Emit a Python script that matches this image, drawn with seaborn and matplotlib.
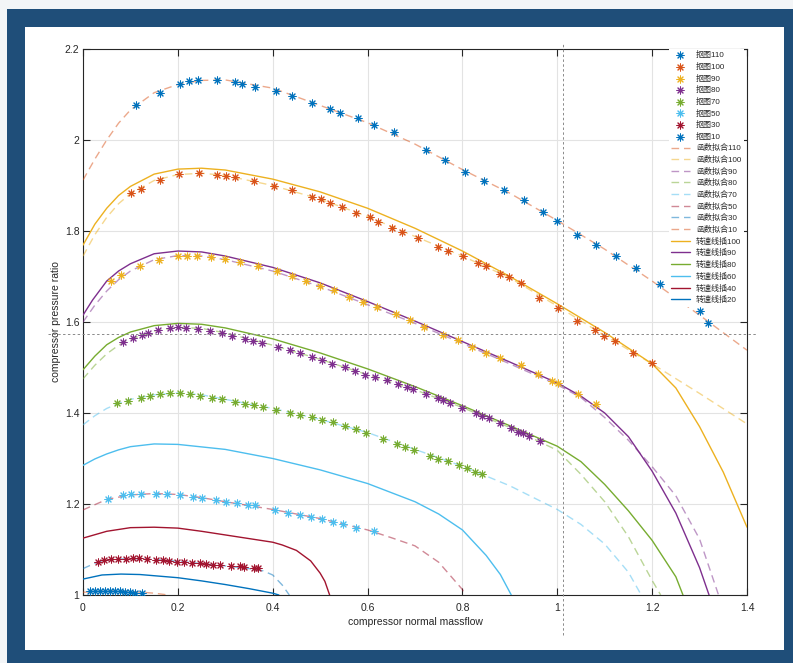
import matplotlib
matplotlib.use("Agg")
import matplotlib.pyplot as plt
from matplotlib.patches import Rectangle
import seaborn as sns

# ---------------- data ----------------
# scatter series "抠图"
s110_x = [0.112, 0.162, 0.205, 0.223, 0.242, 0.283, 0.320, 0.335, 0.363, 0.407, 0.441, 0.483, 0.521,
          0.542, 0.580, 0.614, 0.656, 0.723, 0.763, 0.805, 0.845, 0.888, 0.930, 0.970, 1.000, 1.042,
          1.082, 1.124, 1.166, 1.217, 1.259, 1.301, 1.318]
s110_y = [2.077, 2.103, 2.123, 2.130, 2.132, 2.132, 2.127, 2.123, 2.116, 2.108, 2.097, 2.081, 2.068,
          2.059, 2.048, 2.033, 2.018, 1.978, 1.956, 1.930, 1.910, 1.890, 1.868, 1.842, 1.822, 1.791,
          1.769, 1.745, 1.719, 1.684, 1.655, 1.624, 1.598]

s100_x = [0.101, 0.122, 0.162, 0.202, 0.245, 0.283, 0.301, 0.320, 0.361, 0.403, 0.441, 0.483, 0.502,
          0.521, 0.546, 0.576, 0.605, 0.622, 0.651, 0.673, 0.706, 0.748, 0.770, 0.801, 0.833, 0.850,
          0.879, 0.898, 0.923, 0.961, 1.001, 1.042, 1.079, 1.098, 1.122, 1.160, 1.200]
s100_y = [1.884, 1.892, 1.912, 1.925, 1.927, 1.923, 1.921, 1.919, 1.910, 1.899, 1.890, 1.875, 1.870,
          1.862, 1.853, 1.840, 1.831, 1.820, 1.807, 1.798, 1.785, 1.765, 1.756, 1.745, 1.730, 1.723,
          1.705, 1.699, 1.686, 1.653, 1.631, 1.602, 1.582, 1.569, 1.558, 1.532, 1.510]

s90_x = [0.06, 0.08, 0.12, 0.16, 0.20, 0.22, 0.24, 0.27, 0.30, 0.33, 0.37, 0.41, 0.44, 0.47, 0.50,
         0.53, 0.56, 0.59, 0.62, 0.66, 0.69, 0.72, 0.76, 0.79, 0.82, 0.85, 0.88, 0.923, 0.959, 0.989,
         1.001, 1.044, 1.082]
s90_y = [1.690, 1.703, 1.722, 1.737, 1.744, 1.745, 1.745, 1.742, 1.738, 1.732, 1.723, 1.711, 1.702,
         1.691, 1.680, 1.670, 1.656, 1.645, 1.633, 1.618, 1.604, 1.590, 1.572, 1.560, 1.546, 1.532,
         1.520, 1.505, 1.486, 1.470, 1.466, 1.442, 1.420]

s80_x = [0.084, 0.105, 0.124, 0.137, 0.158, 0.183, 0.200, 0.217, 0.242, 0.268, 0.293, 0.314, 0.342,
         0.358, 0.377, 0.411, 0.436, 0.458, 0.483, 0.504, 0.525, 0.552, 0.573, 0.595, 0.616, 0.641,
         0.664, 0.683, 0.696, 0.723, 0.748, 0.759, 0.774, 0.799, 0.829, 0.841, 0.856, 0.879, 0.902,
         0.917, 0.928, 0.940, 0.964]
s80_y = [1.556, 1.565, 1.571, 1.576, 1.582, 1.587, 1.589, 1.587, 1.585, 1.580, 1.576, 1.569, 1.563,
         1.558, 1.554, 1.545, 1.538, 1.532, 1.523, 1.516, 1.508, 1.501, 1.492, 1.484, 1.479, 1.473,
         1.464, 1.457, 1.453, 1.442, 1.433, 1.429, 1.422, 1.411, 1.400, 1.393, 1.389, 1.378, 1.367,
         1.358, 1.356, 1.349, 1.338]

s70_x = [0.072, 0.095, 0.122, 0.141, 0.162, 0.183, 0.205, 0.226, 0.247, 0.272, 0.293, 0.320, 0.342,
         0.361, 0.380, 0.407, 0.436, 0.458, 0.483, 0.504, 0.527, 0.552, 0.576, 0.597, 0.632, 0.662,
         0.679, 0.698, 0.732, 0.748, 0.770, 0.793, 0.810, 0.826, 0.841]
s70_y = [1.422, 1.426, 1.433, 1.437, 1.442, 1.444, 1.444, 1.442, 1.437, 1.433, 1.431, 1.424, 1.420,
         1.418, 1.413, 1.407, 1.400, 1.396, 1.391, 1.385, 1.380, 1.371, 1.365, 1.356, 1.343, 1.332,
         1.325, 1.319, 1.305, 1.299, 1.295, 1.286, 1.279, 1.270, 1.266]

s50_x = [0.053, 0.084, 0.101, 0.122, 0.154, 0.177, 0.205, 0.232, 0.251, 0.280, 0.302, 0.325, 0.348,
         0.363, 0.405, 0.432, 0.458, 0.481, 0.504, 0.527, 0.548, 0.576, 0.614]
s50_y = [1.211, 1.220, 1.222, 1.222, 1.222, 1.222, 1.220, 1.215, 1.213, 1.209, 1.204, 1.202, 1.198,
         1.198, 1.187, 1.180, 1.176, 1.171, 1.167, 1.160, 1.156, 1.147, 1.141]

s30_x = [0.032, 0.044, 0.059, 0.074, 0.091, 0.105, 0.118, 0.135, 0.154, 0.169, 0.181, 0.198, 0.213,
         0.230, 0.247, 0.259, 0.274, 0.289, 0.312, 0.331, 0.339, 0.361, 0.369]
s30_y = [1.073, 1.077, 1.079, 1.079, 1.079, 1.081, 1.081, 1.079, 1.077, 1.077, 1.075, 1.073, 1.073,
         1.070, 1.070, 1.068, 1.066, 1.066, 1.064, 1.064, 1.062, 1.059, 1.059]

s10_x = [0.015, 0.025, 0.036, 0.046, 0.057, 0.067, 0.078, 0.089, 0.099, 0.110, 0.124]
s10_y = [1.009, 1.009, 1.009, 1.009, 1.009, 1.008, 1.008, 1.007, 1.006, 1.005, 1.005]

# fitted curves "函数拟合"
f110_x = [0, 0.025, 0.05, 0.075, 0.1, 0.15, 0.2, 0.25, 0.3, 0.4, 0.5, 0.6, 0.7, 0.8, 0.9, 1.0, 1.1,
          1.2, 1.3, 1.4]
f110_y = [1.912, 1.958, 2.000, 2.037, 2.066, 2.104, 2.122, 2.131, 2.132, 2.114, 2.076, 2.038, 1.991,
          1.935, 1.883, 1.823, 1.760, 1.690, 1.615, 1.538]
f100_x = [0, 0.025, 0.05, 0.075, 0.1, 0.15, 0.2, 0.25, 0.3, 0.4, 0.5, 0.6, 0.7, 0.8, 0.9, 1.0, 1.1,
          1.2, 1.3, 1.4]
f100_y = [1.745, 1.792, 1.830, 1.860, 1.882, 1.911, 1.924, 1.927, 1.922, 1.900, 1.870, 1.832, 1.788,
          1.745, 1.697, 1.635, 1.570, 1.508, 1.443, 1.376]
f90_x = [0, 0.025, 0.05, 0.075, 0.1, 0.15, 0.2, 0.25, 0.3, 0.4, 0.5, 0.6, 0.7, 0.8, 0.9, 1.0, 1.05,
         1.1, 1.15, 1.2, 1.25, 1.3, 1.34]
f90_y = [1.600, 1.637, 1.668, 1.693, 1.712, 1.737, 1.746, 1.745, 1.737, 1.712, 1.678, 1.638, 1.597,
         1.553, 1.508, 1.462, 1.434, 1.390, 1.340, 1.282, 1.218, 1.123, 1.0]
f80_x = [0, 0.025, 0.05, 0.075, 0.1, 0.15, 0.2, 0.25, 0.3, 0.4, 0.5, 0.6, 0.7, 0.8, 0.9, 1.0, 1.05,
         1.1, 1.15, 1.2, 1.218]
f80_y = [1.475, 1.505, 1.530, 1.549, 1.562, 1.580, 1.588, 1.586, 1.576, 1.549, 1.518, 1.484, 1.451,
         1.412, 1.368, 1.318, 1.265, 1.205, 1.128, 1.032, 1.0]
f70_x = [0, 0.025, 0.05, 0.075, 0.1, 0.15, 0.2, 0.25, 0.3, 0.4, 0.5, 0.6, 0.7, 0.8, 0.9, 1.0, 1.05,
         1.1, 1.15, 1.177]
f70_y = [1.374, 1.394, 1.410, 1.421, 1.430, 1.440, 1.444, 1.440, 1.430, 1.410, 1.386, 1.357, 1.320,
         1.283, 1.240, 1.188, 1.155, 1.112, 1.050, 1.0]
f50_x = [0, 0.05, 0.1, 0.15, 0.2, 0.25, 0.3, 0.4, 0.5, 0.6, 0.65, 0.7, 0.75, 0.8, 0.805]
f50_y = [1.187, 1.210, 1.220, 1.223, 1.221, 1.214, 1.205, 1.188, 1.168, 1.143, 1.126, 1.108, 1.072,
         1.012, 1.0]
f30_x = [0, 0.03, 0.06, 0.1, 0.15, 0.2, 0.25, 0.3, 0.35, 0.38, 0.4, 0.42, 0.435]
f30_y = [1.058, 1.072, 1.078, 1.080, 1.078, 1.074, 1.069, 1.064, 1.058, 1.053, 1.044, 1.022, 1.0]
f10_x = [0, 0.05, 0.1, 0.15, 0.18]
f10_y = [1.006, 1.009, 1.008, 1.004, 1.0]

# speed lines "转速线插"
l100_x = [0, 0.025, 0.05, 0.075, 0.1, 0.15, 0.2, 0.25, 0.3, 0.4, 0.5, 0.6, 0.7, 0.8, 0.9, 1.0, 1.1,
          1.2, 1.25, 1.3, 1.35, 1.4]
l100_y = [1.769, 1.815, 1.850, 1.878, 1.898, 1.925, 1.936, 1.938, 1.934, 1.914, 1.886, 1.850, 1.806,
          1.756, 1.700, 1.640, 1.577, 1.508, 1.455, 1.370, 1.270, 1.149]
l90_x = [0, 0.02, 0.05, 0.075, 0.1, 0.15, 0.2, 0.25, 0.3, 0.4, 0.5, 0.6, 0.7, 0.8, 0.9, 1.0, 1.05,
         1.1, 1.15, 1.2, 1.25, 1.3, 1.32]
l90_y = [1.615, 1.648, 1.690, 1.712, 1.728, 1.750, 1.756, 1.754, 1.745, 1.720, 1.686, 1.645, 1.602,
         1.557, 1.512, 1.466, 1.437, 1.400, 1.348, 1.272, 1.180, 1.060, 1.0]
l80_x = [0, 0.025, 0.05, 0.075, 0.1, 0.15, 0.2, 0.25, 0.3, 0.4, 0.5, 0.6, 0.7, 0.8, 0.9, 1.0, 1.05,
         1.1, 1.15, 1.2, 1.25, 1.265]
l80_y = [1.495, 1.525, 1.550, 1.566, 1.578, 1.592, 1.597, 1.595, 1.587, 1.563, 1.532, 1.497, 1.458,
         1.416, 1.372, 1.327, 1.293, 1.243, 1.185, 1.120, 1.040, 1.0]
l60_x = [0, 0.025, 0.05, 0.075, 0.1, 0.15, 0.2, 0.3, 0.4, 0.5, 0.6, 0.7, 0.75, 0.8, 0.85, 0.88, 0.903]
l60_y = [1.285, 1.299, 1.310, 1.319, 1.326, 1.332, 1.331, 1.320, 1.300, 1.275, 1.245, 1.205, 1.178,
         1.143, 1.087, 1.045, 1.0]
l40_x = [0, 0.05, 0.1, 0.15, 0.2, 0.25, 0.3, 0.35, 0.4, 0.42, 0.45, 0.48, 0.5, 0.51, 0.52]
l40_y = [1.125, 1.140, 1.148, 1.149, 1.147, 1.140, 1.132, 1.124, 1.116, 1.110, 1.098, 1.075, 1.048,
         1.030, 1.0]
l20_x = [0, 0.04, 0.08, 0.12, 0.2, 0.25, 0.3, 0.35, 0.4, 0.413]
l20_y = [1.035, 1.044, 1.046, 1.045, 1.038, 1.031, 1.023, 1.014, 1.004, 1.0]

scatter_labels = ["抠图110", "抠图100", "抠图90", "抠图80", "抠图70", "抠图50", "抠图30", "抠图10"]
fit_labels = ["函数拟合110", "函数拟合100", "函数拟合90", "函数拟合80", "函数拟合70",
              "函数拟合50", "函数拟合30", "函数拟合10"]
line_labels = ["转速线插100", "转速线插90", "转速线插80", "转速线插60", "转速线插40", "转速线插20"]

x_ticks = [0, 0.2, 0.4, 0.6, 0.8, 1.0, 1.2, 1.4]
x_tick_labels = ["0", "0.2", "0.4", "0.6", "0.8", "1", "1.2", "1.4"]
y_ticks = [1.0, 1.2, 1.4, 1.6, 1.8, 2.0, 2.2]
y_tick_labels = ["1", "1.2", "1.4", "1.6", "1.8", "2", "2.2"]

cursor_x = 1.012
cursor_y = 1.574

# ---------------- style ----------------
BLUE, ORANGE, YELLOW = "#0072BD", "#D95319", "#EDB120"
PURPLE, GREEN, LBLUE, DRED = "#7E2F8E", "#77AC30", "#4DBEEE", "#A2142F"

sns.set_style("ticks")
plt.rcParams["font.family"] = ["Liberation Sans", "Noto Sans CJK SC", "DejaVu Sans"]
plt.rcParams["axes.unicode_minus"] = False

fig = plt.figure(figsize=(7.93, 6.63), dpi=100)
fig.patch.set_facecolor("#f3f5f7")
W, H = 793, 663
fig.add_artist(Rectangle((7 / W, 0), (W - 7) / W, (H - 9) / H, transform=fig.transFigure,
                         facecolor="#1F4E79", edgecolor="none", zorder=-3))
fig.add_artist(Rectangle((25 / W, 13 / H), 759 / W, 623 / H, transform=fig.transFigure,
                         facecolor="white", edgecolor="none", zorder=-2))

ax = fig.add_axes([83 / W, 1 - 595 / H, (747 - 83) / W, (595 - 49) / H])
ax.set_facecolor("white")

scatter_sets = [(s110_x, s110_y, BLUE), (s100_x, s100_y, ORANGE), (s90_x, s90_y, YELLOW),
                (s80_x, s80_y, PURPLE), (s70_x, s70_y, GREEN), (s50_x, s50_y, LBLUE),
                (s30_x, s30_y, DRED), (s10_x, s10_y, BLUE)]
fit_sets = [(f110_x, f110_y, ORANGE), (f100_x, f100_y, YELLOW), (f90_x, f90_y, PURPLE),
            (f80_x, f80_y, GREEN), (f70_x, f70_y, LBLUE), (f50_x, f50_y, DRED),
            (f30_x, f30_y, BLUE), (f10_x, f10_y, ORANGE)]
line_sets = [(l100_x, l100_y, YELLOW), (l90_x, l90_y, PURPLE), (l80_x, l80_y, GREEN),
             (l60_x, l60_y, LBLUE), (l40_x, l40_y, DRED), (l20_x, l20_y, BLUE)]

ASTERISK = (8, 2, 0)
for (xs, ys, c), lab in zip(scatter_sets, scatter_labels):
    sns.scatterplot(x=xs, y=ys, ax=ax, marker=ASTERISK, s=26, color=c, linewidth=0.75,
                    label=lab, zorder=4)
for (xs, ys, c), lab in zip(fit_sets, fit_labels):
    sns.lineplot(x=xs, y=ys, ax=ax, color=c, alpha=0.5, lw=1.0, linestyle=(0, (5.5, 3.5)),
                 sort=False, estimator=None, label=lab, zorder=3)
for (xs, ys, c), lab in zip(line_sets, line_labels):
    sns.lineplot(x=xs, y=ys, ax=ax, color=c, lw=1.0, sort=False, estimator=None,
                 label=lab, zorder=3)

# data cursor cross-hair
ax.axhline(cursor_y, xmin=-0.0527, xmax=1.015, color="#8a8a8a", lw=0.7,
           linestyle=(0, (2.5, 2.5)), clip_on=False, zorder=5)
ax.axvline(cursor_x, ymin=-0.0733, ymax=1.0128, color="#8a8a8a", lw=0.7,
           linestyle=(0, (2.5, 2.5)), clip_on=False, zorder=5)

ax.set_xlim(0, 1.4)
ax.set_ylim(1.0, 2.2)
ax.set_xticks(x_ticks)
ax.set_xticklabels(x_tick_labels)
ax.set_yticks(y_ticks)
ax.set_yticklabels(y_tick_labels)
ax.grid(True, color="#e3e3e3", lw=0.8)
ax.set_axisbelow(True)
ax.tick_params(direction="in", top=True, right=True, length=5, width=0.8,
               color="#262626", labelcolor="#262626", labelsize=7.5)
ax.tick_params(axis="x", pad=5.5)
ax.tick_params(axis="y", pad=2.5)
for sp in ax.spines.values():
    sp.set_visible(True)
    sp.set_color("#262626")
    sp.set_linewidth(0.8)

ax.set_xlabel("compressor normal massflow", fontsize=7.5, color="#262626", labelpad=3)
ax.set_ylabel("compressor pressure ratio", fontsize=7.5, color="#262626", labelpad=3)

leg = ax.legend(loc="upper right", bbox_to_anchor=(0.995, 1.0), fontsize=5.8, frameon=True,
                fancybox=False, framealpha=1, facecolor="white", edgecolor="none",
                labelspacing=0.45, handlelength=2.3, handletextpad=0.8, borderpad=0.3,
                borderaxespad=0.0)
leg.set_zorder(6)

fig.savefig("out.png", dpi=100, facecolor=fig.get_facecolor())
